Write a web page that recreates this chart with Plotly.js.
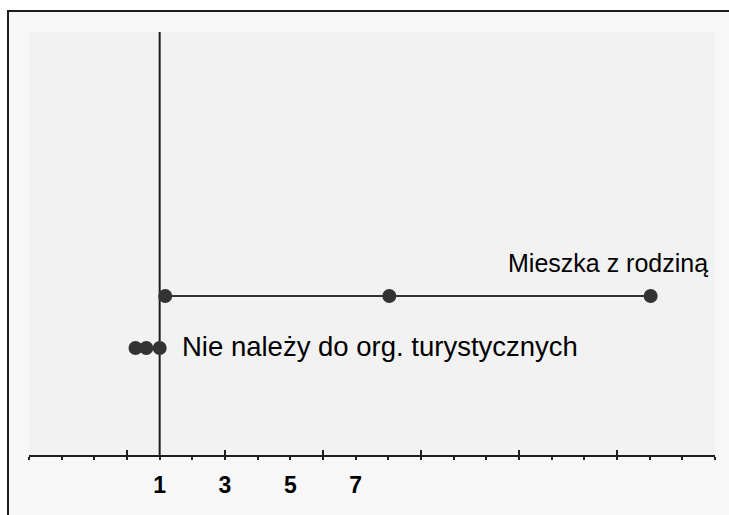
<!DOCTYPE html>
<html><head><meta charset="utf-8">
<script src="https://cdn.plot.ly/plotly-3.0.1.min.js"></script>
<style>
html,body{margin:0;padding:0;background:#fff;overflow:hidden;width:729px;height:515px;}
#frame{position:absolute;left:7px;top:10px;border-top:2px solid #1e1e1e;border-left:2px solid #1e1e1e;width:740px;height:520px;}
#chart{width:740px;height:520px;}
</style></head><body>
<div id="frame"><div id="chart"></div></div>
<script>
// ---- data ----
const rowLabels = ["Mieszka z rodziną", "Nie należy do org. turystycznych"];
const rowPos = [2, 1];
const lowerCI = [1.17, 0.26];
const estimate = [8.03, 0.59];
const upperCI = [16.03, 1.0];
const refValue = 1;
const minorTickVals = [-3,-2,-1,0,1,2,3,4,5,6,7,8,9,10,11,12,13,14,15,16,17,18];
const majorTickVals = [-3,0,3,6,9,12,15,18];
const labelTickVals = [1,3,5,7];
const labelTickText = ["1","3","5","7"];
const xRange = [-3, 18];
const yRange = [-1.058, 7.077];

const ink = '#333333';
const traces = rowLabels.map((name, i) => ({
  type: 'scatter', mode: 'lines+markers', name: name,
  x: [lowerCI[i], estimate[i], upperCI[i]],
  y: [rowPos[i], rowPos[i], rowPos[i]],
  line: {color: ink, width: 2},
  marker: {color: ink, size: 14},
  hoverinfo: 'skip', showlegend: false, cliponaxis: false
}));
traces.push({type:'scatter', x:[null], y:[null], xaxis:'x2', yaxis:'y', showlegend:false, hoverinfo:'skip'});
traces.push({type:'scatter', x:[null], y:[null], xaxis:'x3', yaxis:'y', showlegend:false, hoverinfo:'skip'});

const fam = 'Liberation Sans, Arial, sans-serif';
const annotations = [
  {xref: 'paper', x: 1, y: rowPos[0], yref: 'y', xanchor: 'right', yanchor: 'middle',
   xshift: -5, yshift: 33, text: rowLabels[0], showarrow: false,
   font: {family: fam, size: 25, color: '#000'}},
  {xref: 'x', x: upperCI[1], y: rowPos[1], yref: 'y', xanchor: 'left', yanchor: 'middle',
   xshift: 20, yshift: 1, text: rowLabels[1], showarrow: false,
   font: {family: fam, size: 27.5, color: '#000'}}
];

const layout = {
  width: 740, height: 520,
  margin: {l: 20, r: 34, t: 20, b: 77},
  paper_bgcolor: '#f8f8f8', plot_bgcolor: '#f2f2f2',
  showlegend: false,
  xaxis: {range: xRange, showgrid: false, zeroline: false, showline: true,
          linecolor: '#1e1e1e', linewidth: 2, tickmode: 'array', tickvals: minorTickVals,
          ticks: 'outside', ticklen: 3, tickwidth: 2, tickcolor: '#1e1e1e',
          showticklabels: false, fixedrange: true},
  xaxis2: {overlaying: 'x', matches: 'x', anchor: 'y', range: xRange, showgrid: false,
           zeroline: false, showline: false, tickmode: 'array', tickvals: majorTickVals,
           ticks: 'inside', ticklen: 5, tickwidth: 2, tickcolor: '#1e1e1e',
           showticklabels: false},
  xaxis3: {overlaying: 'x', matches: 'x', anchor: 'y', range: xRange, showgrid: false,
           zeroline: false, showline: false, tickmode: 'array', tickvals: labelTickVals,
           ticktext: labelTickText, ticks: '', ticklabelstandoff: 14,
           tickfont: {family: fam, size: 23, color: '#000', weight: 'bold'}},
  yaxis: {range: yRange, visible: false, showgrid: false, zeroline: false, fixedrange: true},
  shapes: [{type: 'line', xref: 'x', yref: 'paper', x0: refValue, x1: refValue, y0: 0, y1: 1,
            line: {color: '#1e1e1e', width: 2}, layer: 'below'}],
  annotations: annotations
};
Plotly.newPlot('chart', traces, layout, {displayModeBar: false, staticPlot: true});
</script>
</body></html>
